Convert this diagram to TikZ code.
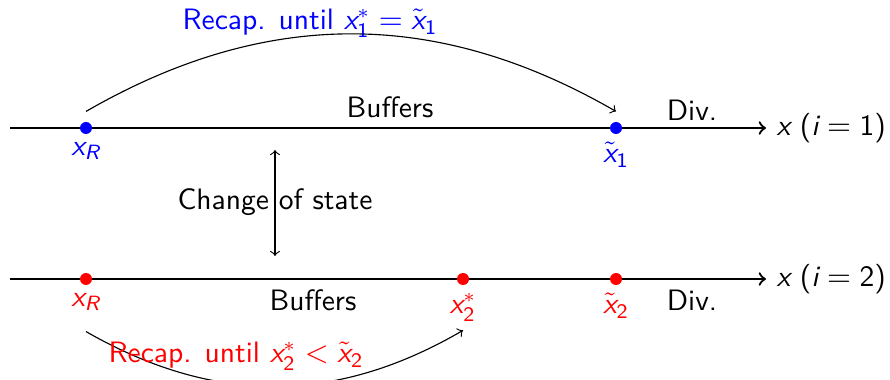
\documentclass[tikz,border=0pt]{standalone}
\usepackage{amsmath}
\usetikzlibrary{positioning}
\newcommand\mv[1]{\textsf{\itshape #1}}
\newcommand\md[1]{\textsf{#1}}

\begin{document}
\begin{tikzpicture}[
    every node/.style={font=\fontsize{10.5}{12.6}\selectfont\sffamily},
    axis/.style={thick, ->},
    dot/.style={circle, fill=#1, inner sep=0pt, minimum size=0.15cm},
    pt/.style={text=#1, inner sep=1pt},
    recap/.style={->, thin},
    state/.style={<->, thin}
]
\useasboundingbox (0,0) rectangle (11.125,4.7375);

% Axis i=1
\draw[axis] (0.125,3.1375) -- (9.575,3.1375) node[right] (ax1) {$\mv{x}$ ($\mv{i}=\md{1}$)};
\node[dot=blue] (xR1) at (1.075,3.1375) {};
\node[dot=blue] (xt1) at (7.7,3.1375) {};
\node[pt=blue, below=0.05cm of xR1] (lR1) {$\mv{x}_{\mv{R}}$};
\node[pt=blue, below=0.05cm of xt1] (lt1) {$\tilde{\mv{x}}_{\md{1}}$};
\node (buf1) at (4.875,3.4) {Buffers};
\node (div1) at (8.65,3.3625) {Div.};

% Axis i=2
\draw[axis] (0.125,1.25) -- (9.575,1.25) node[right] (ax2) {$\mv{x}$ ($\mv{i}=\md{2}$)};
\node[dot=red] (xR2) at (1.075,1.25) {};
\node[dot=red] (xs2) at (5.7875,1.25) {};
\node[dot=red] (xt2) at (7.7,1.25) {};
\node[pt=red, below=0.05cm of xR2] (lR2) {$\mv{x}_{\mv{R}}$};
\node[pt=red, below=0.05cm of xs2] (ls2) {$\mv{x}_{\md{2}}^{*}$};
\node[pt=red, below=0.05cm of xt2] (lt2) {$\tilde{\mv{x}}_{\md{2}}$};
\node (buf2) at (3.9125,0.9875) {Buffers};
\node (div2) at (8.65,0.9875) {Div.};

% Recapitalisation arcs
\coordinate[above=0.125cm of xR1] (a1);
\coordinate[above=0.125cm of xt1] (b1);
\draw[recap] (a1) to[bend left=30] (b1);
\node[text=blue] (rec1) at (3.875,4.45) {Recap. until $\mv{x}_{\md{1}}^{*}=\tilde{\mv{x}}_{\md{1}}$};

\coordinate[below=0.575cm of xR2] (a2);
\coordinate[below=0.56cm of xs2] (b2);
\draw[recap] (a2) to[bend right=30] (b2);
\node[text=red] (rec2) at (2.95,0.2875) {Recap. until $\mv{x}_{\md{2}}^{*}<\tilde{\mv{x}}_{\md{2}}$};

% Change of state
\coordinate (s1) at (3.4375,2.8625);
\coordinate (s2) at (3.4375,1.5375);
\draw[state] (s1) -- (s2);
\node (chg) at (3.4375,2.2125) {Change of state};

\end{tikzpicture}
\end{document}
